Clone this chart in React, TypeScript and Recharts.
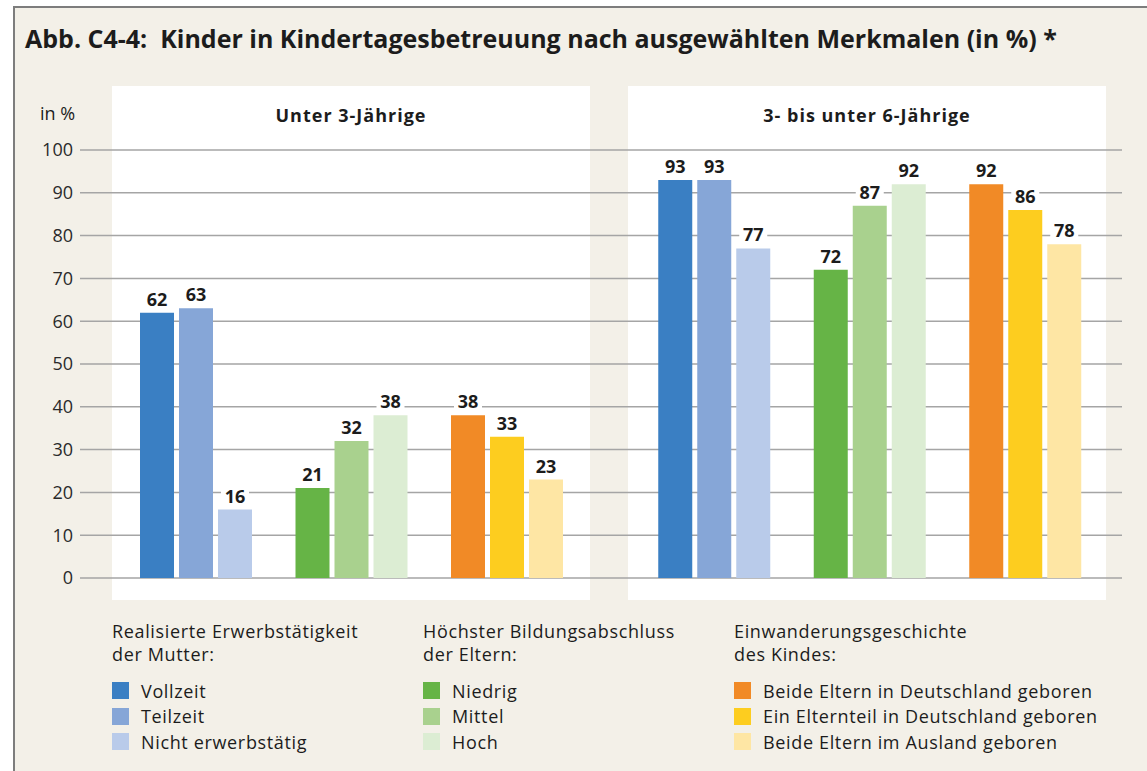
import { BarChart, Bar, XAxis, YAxis, CartesianGrid, Cell, LabelList } from 'recharts';

const FONT = '"Open Sans", "Noto Sans", sans-serif';

const TITLE = 'Abb. C4-4:\u00a0\u00a0Kinder in Kindertagesbetreuung nach ausgewählten Merkmalen (in %) *';
const PANEL_TITLES = ['Unter 3-Jährige', '3- bis unter 6-Jährige'];

const GROUP_TITLES = [
  ['Realisierte Erwerbstätigkeit', 'der Mutter:'],
  ['Höchster Bildungsabschluss', 'der Eltern:'],
  ['Einwanderungsgeschichte', 'des Kindes:']
];

const GROUP_ITEMS = [
  ['Vollzeit', 'Teilzeit', 'Nicht erwerbstätig'],
  ['Niedrig', 'Mittel', 'Hoch'],
  ['Beide Eltern in Deutschland geboren', 'Ein Elternteil in Deutschland geboren', 'Beide Eltern im Ausland geboren']
];

const GROUP_COLORS = [
  ['#3a7fc3', '#86a6d7', '#b9cbea'],
  ['#66b446', '#a9d18e', '#dcedd3'],
  ['#f18a26', '#fdcd1f', '#fee6a4']
];

// values per group, three series each
const UNTER_3 = [
  [62, 63, 16],
  [21, 32, 38],
  [38, 33, 23]
];
const DREI_BIS_6 = [
  [93, 93, 77],
  [72, 87, 92],
  [92, 86, 78]
];

const Y_TICKS = [0, 10, 20, 30, 40, 50, 60, 70, 80, 90, 100];

const BG = '#f3f0e8';
const GRID = '#a5a5a5';
const INK = '#1c1c1c';

function toRows(values: number[][]) {
  return values.map((v, i) => ({ group: GROUP_TITLES[i].join(' '), s0: v[0], s1: v[1], s2: v[2] }));
}

function ValueLabel(props: any) {
  const x = Number(props.x ?? props.viewBox?.x);
  const y = Number(props.y ?? props.viewBox?.y);
  const width = Number(props.width ?? props.viewBox?.width);
  const cx = x + width / 2;
  const w = String(props.value).length * 11 + 6;
  return (
    <g>
      <rect x={cx - w / 2} y={y - 23} width={w} height={18} fill="#fff" />
      <text x={cx} y={y - 7} textAnchor="middle" fontSize={18} fontWeight={700} fill={INK} fontFamily={FONT}>
        {props.value}
      </text>
    </g>
  );
}

function Panel({ values, left, width, showAxis, padLeft, padRight }: {
  values: number[][]; left: number; width: number; showAxis: boolean; padLeft: number; padRight: number;
}) {
  const data = toRows(values);
  return (
    <div style={{ position: 'absolute', left, top: 100 }}>
      <BarChart
        width={width}
        height={492}
        data={data}
        margin={{ top: 50, right: 0, bottom: 14, left: 0 }}
        barSize={34}
        barGap={5}
      >
        <CartesianGrid vertical={false} stroke={GRID} strokeWidth={1.5} />
        <XAxis dataKey="group" hide padding={{ left: padLeft, right: padRight }} />
        <YAxis
          domain={[0, 100]}
          ticks={Y_TICKS}
          interval={0}
          hide={!showAxis}
          width={60}
          axisLine={false}
          tickLine={false}
          tickSize={0}
          tickMargin={7}
          tick={{ fontSize: 18, fill: '#2a2a2a', fontFamily: FONT }}
        />
        {[0, 1, 2].map((s) => (
          <Bar key={s} dataKey={`s${s}`} isAnimationActive={false}>
            {data.map((_, g) => (
              <Cell key={g} fill={GROUP_COLORS[g][s]} />
            ))}
            <LabelList dataKey={`s${s}`} content={ValueLabel} />
          </Bar>
        ))}
      </BarChart>
    </div>
  );
}

export default function App() {
  const legendLeft = [112, 423, 734];
  return (
    <div style={{ position: 'fixed', left: 0, top: 0, width: 1147, height: 771, background: '#fff', overflow: 'hidden', fontFamily: FONT, color: INK }}>
      <div style={{ position: 'absolute', left: 13, top: 6, width: 1200, height: 800, background: BG, borderTop: '2px solid #7d7d7d', borderLeft: '2px solid #7d7d7d' }} />

      <div style={{ position: 'absolute', left: 25, top: 21, fontSize: 25, fontWeight: 700, lineHeight: '34px', whiteSpace: 'pre' }}>
        {TITLE}
      </div>

      {/* white panels behind the charts */}
      <div style={{ position: 'absolute', left: 112, top: 86, width: 478, height: 514, background: '#fff' }} />
      <div style={{ position: 'absolute', left: 628, top: 86, width: 478, height: 514, background: '#fff' }} />

      <div style={{ position: 'absolute', left: 40, top: 102, fontSize: 18, lineHeight: '22px' }}>in %</div>
      {PANEL_TITLES.map((t, i) => (
        <div
          key={t}
          style={{ position: 'absolute', left: i === 0 ? 112 : 628, width: 478, top: 104, textAlign: 'center', fontSize: 18, fontWeight: 700, lineHeight: '22px', letterSpacing: 1 }}
        >
          {t}
        </div>
      ))}

      <Panel values={UNTER_3} left={20} width={589} showAxis padLeft={38} padRight={24.5} />
      <Panel values={DREI_BIS_6} left={609} width={513} showAxis={false} padLeft={27.25} padRight={19.25} />

      {GROUP_TITLES.map((title, g) => (
        <div key={g} style={{ position: 'absolute', left: legendLeft[g], top: 620, letterSpacing: 0.65 }}>
          <div style={{ fontSize: 18, lineHeight: '23px', whiteSpace: 'nowrap' }}>
            {title[0]}
            <br />
            {title[1]}
          </div>
          <div style={{ marginTop: 12 }}>
            {GROUP_ITEMS[g].map((item, s) => (
              <div key={item} style={{ display: 'flex', alignItems: 'center', height: 25.5, fontSize: 18, whiteSpace: 'nowrap' }}>
                <span style={{ display: 'inline-block', width: 17, height: 17, background: GROUP_COLORS[g][s], marginRight: 12 }} />
                {item}
              </div>
            ))}
          </div>
        </div>
      ))}
    </div>
  );
}
